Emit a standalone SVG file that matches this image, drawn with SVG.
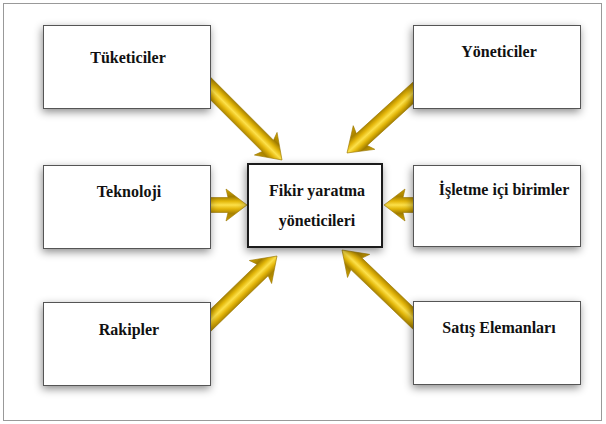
<svg xmlns="http://www.w3.org/2000/svg" width="606" height="424" viewBox="0 0 606 424">
<style>
.box{fill:#fff;stroke:#555;stroke-width:1;filter:url(#sh)}
.center{fill:#fff;stroke:#1a1a1a;stroke-width:2;filter:url(#sh)}
.lbl{font-family:"Liberation Serif","Times New Roman",serif;font-weight:bold;font-size:16px;fill:#111;text-anchor:middle}
.arrow{fill:url(#gold);stroke:#9a7600;stroke-width:0.6;stroke-linejoin:round}
</style>
<defs>
<filter id="sh" x="-20%" y="-30%" width="140%" height="170%">
<feDropShadow dx="-1" dy="3" stdDeviation="4" flood-color="#000" flood-opacity="0.45"/>
</filter>
<linearGradient id="gold" gradientUnits="userSpaceOnUse" x1="0" y1="-16" x2="0" y2="16">
<stop offset="0" stop-color="#D8AC00"/>
<stop offset="0.24" stop-color="#A07C00"/>
<stop offset="0.38" stop-color="#E2B608"/>
<stop offset="0.5" stop-color="#FCE04A"/>
<stop offset="0.62" stop-color="#E4B60A"/>
<stop offset="0.76" stop-color="#A88200"/>
<stop offset="1" stop-color="#C89C00"/>
</linearGradient>
</defs>
<rect x="3.5" y="3.5" width="598" height="417" fill="#fff" stroke="#999" stroke-width="1"/>
<g id="connectors">
<path class="arrow" transform="translate(282,160) rotate(45)" d="M-111,-8 L-20,-8 L-23,-16 L0,0 L-23,16 L-20,8 L-111,8 Z"/>
<path class="arrow" transform="translate(347,153) rotate(137.7)" d="M-99,-8 L-20,-8 L-23,-16 L0,0 L-23,16 L-20,8 L-99,8 Z"/>
<path class="arrow" transform="translate(247,205)" d="M-42,-7.5 L-19,-7.5 L-21,-16 L0,0 L-21,16 L-19,7.5 L-42,7.5 Z"/>
<path class="arrow" transform="translate(384,205) rotate(180)" d="M-35,-7.5 L-19,-7.5 L-21,-16 L0,0 L-21,16 L-19,7.5 L-35,7.5 Z"/>
<path class="arrow" transform="translate(277,256) rotate(-44.1)" d="M-102,-8 L-20,-8 L-23,-16 L0,0 L-23,16 L-20,8 L-102,8 Z"/>
<path class="arrow" transform="translate(342,250) rotate(-136.2)" d="M-108,-8 L-20,-8 L-23,-16 L0,0 L-23,16 L-20,8 L-108,8 Z"/>
</g>
<g id="tuketiciler"><rect class="box" x="43.5" y="25.5" width="167" height="83"/><text class="lbl" x="128" y="63">Tüketiciler</text></g>
<g id="teknoloji"><rect class="box" x="43.5" y="165.5" width="167" height="83"/><text class="lbl" x="129" y="197">Teknoloji</text></g>
<g id="rakipler"><rect class="box" x="43.5" y="302.5" width="167" height="83"/><text class="lbl" x="129" y="335">Rakipler</text></g>
<g id="yoneticiler"><rect class="box" x="413.5" y="25.5" width="167" height="83"/><text class="lbl" x="499" y="57">Yöneticiler</text></g>
<g id="isletme"><rect class="box" x="413.5" y="165.5" width="167" height="81"/><text class="lbl" x="504" y="195">İşletme içi birimler</text></g>
<g id="satis"><rect class="box" x="413.5" y="301.5" width="167" height="83"/><text class="lbl" x="499" y="333">Satış Elemanları</text></g>
<g id="fikir"><rect class="center" x="248" y="164" width="134" height="83"/><text class="lbl" x="317" y="196">Fikir yaratma</text><text class="lbl" x="317" y="226">yöneticileri</text></g>
</svg>
